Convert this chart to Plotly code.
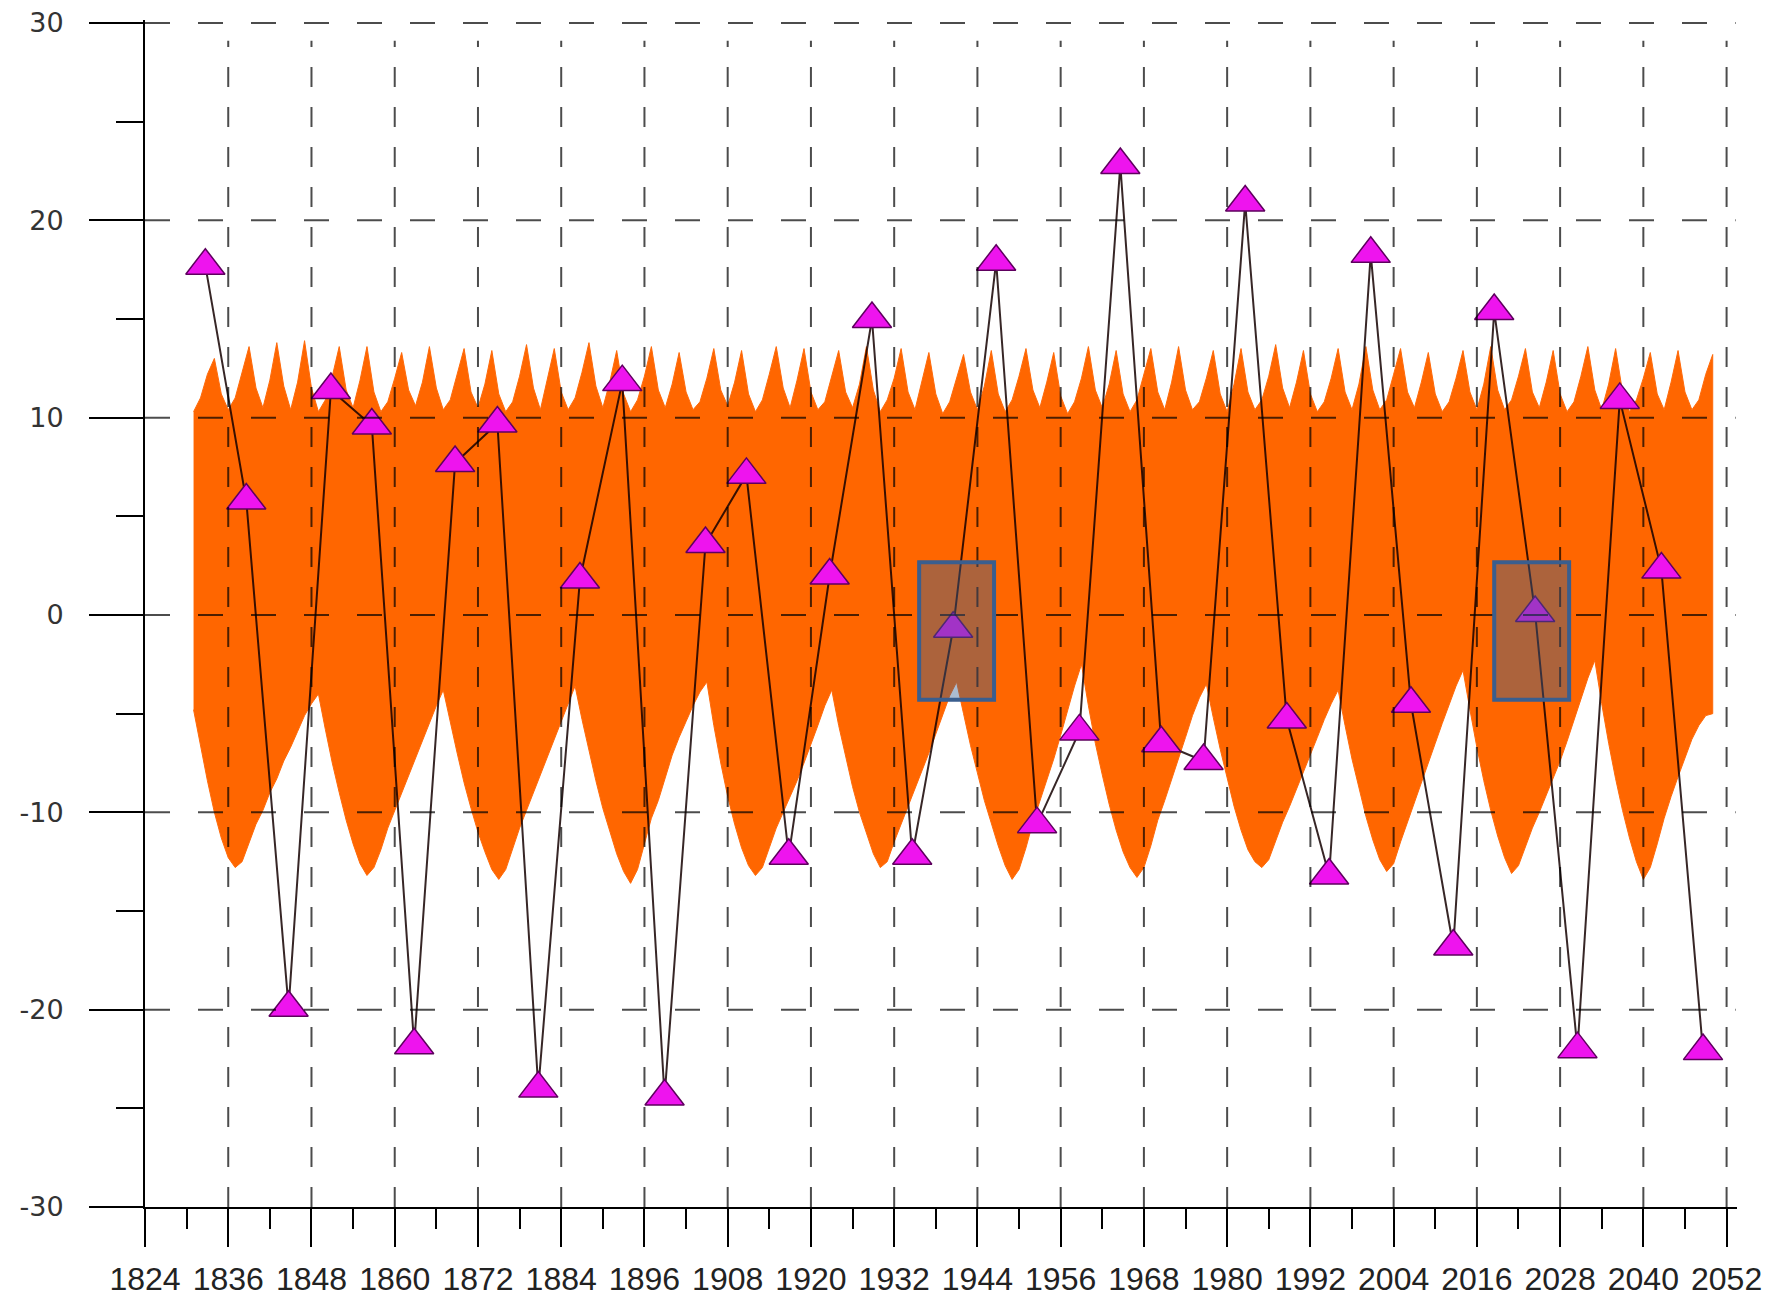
import plotly.graph_objects as go

# ---------------- data ----------------
x_tick_vals = [1824, 1836, 1848, 1860, 1872, 1884, 1896, 1908, 1920, 1932, 1944, 1956,
               1968, 1980, 1992, 2004, 2016, 2028, 2040, 2052]
x_tick_text = [str(v) for v in x_tick_vals]
y_tick_vals = [-30, -20, -10, 0, 10, 20, 30]
y_tick_text = ["-30", "-20", "-10", "0", "10", "20", "30"]

# triangle series
point_years = [1832.7, 1838.6, 1844.7, 1850.8, 1856.7, 1862.8, 1868.7, 1874.8, 1880.7, 1886.7,
               1892.8, 1898.9, 1904.8, 1910.7, 1916.8, 1922.7, 1928.8, 1934.6, 1940.5, 1946.7,
               1952.6, 1958.7, 1964.6, 1970.5, 1976.6, 1982.6, 1988.6, 1994.7, 2000.7, 2006.5,
               2012.6, 2018.5, 2024.4, 2030.5, 2036.6, 2042.6, 2048.6]
point_values = [17.7, 5.8, -19.9, 11.4, 9.6, -21.8, 7.7, 9.7, -24.0, 1.8,
                11.8, -24.4, 3.6, 7.1, -12.2, 2.0, 15.0, -12.2, -0.7, 17.9,
                -10.6, -5.9, 22.8, -6.5, -7.4, 20.9, -5.3, -13.2, 18.3, -4.5,
                -16.8, 15.4, 0.1, -22.0, 10.9, 2.3, -22.1]

# orange band: yearly upper / lower envelope, 1831..2050
band_years = list(range(1831, 2051))
band_upper = [
    10.3, 11.0, 12.2, 13.0, 11.2, 10.4, 11.0, 12.3, 13.6, 11.5,   # 1831-1840
    10.5, 11.9, 13.8, 11.6, 10.4, 11.8, 13.9, 11.5, 10.3, 10.9,   # 1841-1850
    12.1, 13.6, 11.4, 10.5, 11.9, 13.6, 11.3, 10.3, 10.8, 12.0,   # 1851-1860
    13.3, 11.4, 10.6, 11.8, 13.6, 11.5, 10.4, 10.9, 12.2, 13.5,   # 1861-1870
    11.3, 10.5, 11.7, 13.4, 11.2, 10.3, 10.8, 12.1, 13.7, 11.5,   # 1871-1880
    10.4, 11.9, 13.5, 11.3, 10.4, 11.0, 12.3, 13.8, 11.6, 10.5,   # 1881-1890
    11.8, 13.4, 11.2, 10.3, 10.9, 12.1, 13.6, 11.4, 10.5, 11.7,   # 1891-1900
    13.3, 11.3, 10.4, 10.8, 12.0, 13.5, 11.4, 10.6, 11.8, 13.4,   # 1901-1910
    11.2, 10.3, 10.9, 12.2, 13.6, 11.5, 10.5, 11.9, 13.5, 11.3,   # 1911-1920
    10.4, 10.8, 12.1, 13.4, 11.3, 10.5, 11.7, 13.6, 11.4, 10.3,   # 1921-1930
    10.9, 12.0, 13.5, 11.3, 10.4, 11.8, 13.3, 11.2, 10.2, 10.8,   # 1931-1940
    12.0, 13.2, 11.3, 10.4, 11.6, 13.4, 11.2, 10.3, 10.9, 12.1,   # 1941-1950
    13.5, 11.4, 10.5, 11.8, 13.3, 11.1, 10.2, 10.8, 12.0, 13.6,   # 1951-1960
    11.4, 10.5, 11.7, 13.4, 11.2, 10.3, 10.9, 12.2, 13.5, 11.3,   # 1961-1970
    10.4, 11.8, 13.6, 11.4, 10.4, 10.8, 12.0, 13.4, 11.2, 10.3,   # 1971-1980
    11.7, 13.5, 11.3, 10.4, 10.9, 12.1, 13.7, 11.5, 10.5, 11.8,   # 1981-1990
    13.4, 11.2, 10.3, 10.8, 12.0, 13.5, 11.3, 10.4, 11.7, 13.6,   # 1991-2000
    11.4, 10.4, 10.9, 12.2, 13.5, 11.3, 10.5, 11.8, 13.3, 11.2,   # 2001-2010
    10.3, 10.8, 12.0, 13.4, 11.3, 10.4, 11.7, 13.6, 11.4, 10.4,   # 2011-2020
    10.9, 12.1, 13.5, 11.3, 10.5, 11.8, 13.4, 11.2, 10.3, 10.8,   # 2021-2030
    12.1, 13.6, 11.4, 10.4, 11.7, 13.5, 11.3, 10.3, 10.9, 12.0,   # 2031-2040
    13.3, 11.2, 10.4, 11.8, 13.4, 11.3, 10.4, 10.9, 12.2, 13.2,   # 2041-2050
]
band_lower = [
    -4.8, -6.5, -8.4, -10.0, -11.3, -12.3, -12.8, -12.5, -11.6, -10.6,   # 1831-1840
    -9.9, -9.0, -8.3, -7.4, -6.7, -5.9, -5.1, -4.5, -4.0, -5.8,          # 1841-1850
    -7.5, -9.0, -10.4, -11.6, -12.6, -13.2, -12.8, -11.9, -10.8, -9.9,   # 1851-1860
    -9.1, -8.2, -7.3, -6.4, -5.5, -4.6, -3.8, -5.4, -7.0, -8.5,          # 1861-1870
    -9.8, -11.0, -12.0, -12.9, -13.4, -12.9, -11.9, -10.8, -9.9, -9.0,   # 1871-1880
    -8.2, -7.3, -6.4, -5.5, -4.5, -3.6, -5.3, -6.9, -8.4, -9.8,          # 1881-1890
    -11.0, -12.1, -13.0, -13.6, -12.9, -11.6, -10.3, -9.4, -8.3, -7.1,   # 1891-1900
    -6.2, -5.4, -4.6, -3.9, -3.4, -5.6, -7.5, -9.2, -10.6, -11.8,        # 1901-1910
    -12.7, -13.2, -12.8, -11.8, -10.8, -10.0, -9.2, -8.4, -7.5, -6.6,    # 1911-1920
    -5.6, -4.6, -3.8, -5.6, -7.2, -8.7, -10.0, -11.1, -12.1, -12.8,      # 1921-1930
    -12.5, -11.5, -10.5, -9.6, -8.8, -7.9, -7.0, -6.0, -5.1, -4.1,       # 1931-1940
    -3.4, -5.0, -6.6, -8.0, -9.4, -10.6, -11.7, -12.7, -13.4, -12.9,     # 1941-1950
    -11.8, -10.5, -9.5, -8.4, -7.3, -6.1, -4.9, -3.6, -2.5, -4.6,        # 1951-1960
    -6.5, -8.1, -9.6, -10.9, -12.0, -12.8, -13.3, -12.8, -11.7, -10.4,   # 1961-1970
    -9.4, -8.4, -7.3, -6.2, -5.1, -4.2, -3.5, -5.2, -6.8, -8.3,          # 1971-1980
    -9.7, -10.9, -11.9, -12.5, -12.8, -12.4, -11.5, -10.5, -9.7, -8.9,   # 1981-1990
    -8.0, -7.1, -6.2, -5.3, -4.5, -3.8, -5.6, -7.3, -8.8, -10.2,         # 1991-2000
    -11.4, -12.4, -13.0, -12.6, -11.5, -10.4, -9.5, -8.5, -7.5, -6.5,    # 2001-2010
    -5.5, -4.5, -3.6, -2.8, -4.8, -6.7, -8.4, -9.9, -11.2, -12.3,        # 2011-2020
    -13.1, -12.7, -11.8, -10.8, -10.0, -9.2, -8.3, -7.4, -6.4, -5.4,     # 2021-2030
    -4.3, -3.2, -2.3, -4.5, -6.5, -8.3, -9.9, -11.3, -12.5, -13.4,       # 2031-2040
    -12.8, -11.6, -10.3, -9.2, -8.2, -7.2, -6.3, -5.6, -5.1, -5.0,       # 2041-2050
]
assert len(band_upper) == len(band_years) == len(band_lower)

# highlighted boxes (year range, value range)
box_x0 = [1935.6, 2018.5]
box_x1 = [1946.4, 2029.3]
box_y0 = [-4.3, -4.3]
box_y1 = [2.67, 2.67]

X_MIN, X_MAX = 1824, 2053.5
Y_MIN, Y_MAX = -30, 30.15

# ---------------- figure ----------------
fig = go.Figure()

fig.add_trace(go.Scatter(
    x=band_years + band_years[::-1],
    y=band_upper + band_lower[::-1],
    fill="toself", fillcolor="#FF6600",
    line=dict(color="#FF6A0A", width=1),
    mode="lines", hoverinfo="skip", showlegend=False,
))

fig.add_trace(go.Scatter(
    x=point_years, y=point_values, mode="lines+markers",
    line=dict(color="rgba(20,0,0,0.85)", width=2),
    marker=dict(symbol="triangle-up", size=34, color="#EE14EE",
                line=dict(color="#5E005E", width=1.5)),
    showlegend=False,
))

shapes = []
grid_col = "rgba(0,0,0,0.7)"
for xv in x_tick_vals[1:]:
    shapes.append(dict(type="line", xref="x", yref="y", x0=xv, x1=xv, y0=-30, y1=29.1,
                       line=dict(color=grid_col, width=2, dash="20px,20px"), layer="above"))
for yv in y_tick_vals[1:]:
    shapes.append(dict(type="line", xref="x", yref="y", x0=1824, x1=2053.3, y0=yv, y1=yv,
                       line=dict(color=grid_col, width=2, dash="25px,28px"), layer="above"))
for a, b, c, d in zip(box_x0, box_x1, box_y0, box_y1):
    shapes.append(dict(type="rect", xref="x", yref="y", x0=a, x1=b, y0=c, y1=d,
                       fillcolor="rgba(58,95,143,0.42)",
                       line=dict(color="#3A5E8E", width=4), layer="above"))

fig.update_layout(
    width=1787, height=1297,
    margin=dict(l=145, r=50, t=20, b=90, pad=0, autoexpand=False),
    paper_bgcolor="white", plot_bgcolor="white",
    shapes=shapes,
    showlegend=False,
)
fig.update_xaxes(
    range=[X_MIN, X_MAX], showgrid=False, zeroline=False, automargin=False,
    showline=True, linecolor="black", linewidth=2,
    ticks="outside", ticklen=38, tickwidth=2, tickcolor="black",
    tickvals=x_tick_vals, ticktext=x_tick_text,
    tickfont=dict(family="Liberation Sans, Arial", size=32, color="#222222"),
    ticklabelstandoff=5,
    minor=dict(ticks="outside", ticklen=20, tickwidth=2, tickcolor="black",
               tick0=1830, dtick=12, showgrid=False),
)
fig.update_yaxes(
    range=[Y_MIN, Y_MAX], showgrid=False, zeroline=False, automargin=False,
    showline=True, linecolor="black", linewidth=2,
    ticks="outside", ticklen=54, tickwidth=2, tickcolor="black",
    tickvals=y_tick_vals, ticktext=y_tick_text,
    tickfont=dict(family="DejaVu Sans", size=27, color="#333333"),
    ticklabelstandoff=20,
    minor=dict(ticks="outside", ticklen=27, tickwidth=2, tickcolor="black",
               tick0=-25, dtick=10, showgrid=False),
)

fig.write_html("out.html", config={"displayModeBar": False},
               post_script="document.body.style.margin='0';document.body.style.overflow='hidden';")
